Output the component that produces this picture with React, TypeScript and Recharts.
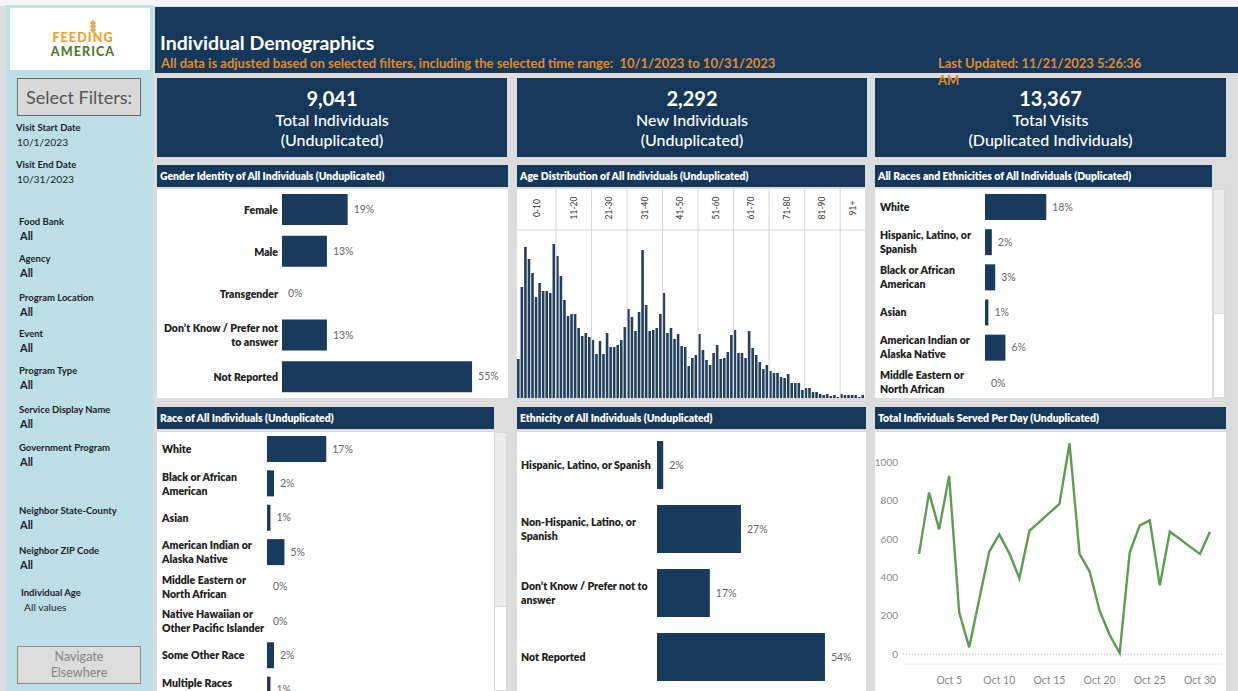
import React from "react";
import { BarChart, Bar, XAxis, YAxis, LabelList, LineChart, Line, ReferenceLine } from "recharts";

const NAVY = "#16395b";
const BAR = "#193b5e";
const ORANGE = "#e08a2c";
const FONT = "Lato, 'Noto Sans', sans-serif";

// ---------- DATA ----------
const genderCats = ["Female", "Male", "Transgender", "Don\u2019t Know / Prefer not to answer", "Not Reported"];
const genderPct = [19, 13, 0, 13, 55];

const raceDupCats = [
  "White",
  "Hispanic, Latino, or Spanish",
  "Black or African American",
  "Asian",
  "American Indian or Alaska Native",
  "Middle Eastern or North African",
];
const raceDupPct = [18, 2, 3, 1, 6, 0];

const raceCats = [
  "White",
  "Black or African American",
  "Asian",
  "American Indian or Alaska Native",
  "Middle Eastern or North African",
  "Native Hawaiian or Other Pacific Islander",
  "Some Other Race",
  "Multiple Races",
];
const racePct = [17, 2, 1, 5, 0, 0, 2, 1];

const ethCats = [
  "Hispanic, Latino, or Spanish",
  "Non-Hispanic, Latino, or Spanish",
  "Don\u2019t Know / Prefer not to answer",
  "Not Reported",
];
const ethPct = [2, 27, 17, 54];

const ageBins = ["0-10", "11-20", "21-30", "31-40", "41-50", "51-60", "61-70", "71-80", "81-90", "91+"];
const ageBinFirst = [0, 11, 21, 31, 41, 51, 61, 71, 81, 91];
const ageBinLast = [10, 20, 30, 40, 50, 60, 70, 80, 90, 97];
const ageCounts = [
  39, 111, 151, 139, 125, 101, 115, 107, 107, 105, 154,
  142, 122, 98, 82, 84, 84, 70, 62, 65, 61,
  58, 44, 57, 44, 65, 51, 51, 53, 58, 71,
  89, 81, 67, 86, 148, 93, 67, 68, 70, 84,
  105, 65, 70, 59, 64, 52, 51, 32, 40, 43,
  64, 48, 38, 33, 45, 53, 39, 40, 46, 63,
  68, 45, 45, 40, 67, 50, 43, 36, 29, 33,
  27, 25, 25, 21, 20, 24, 15, 15, 15, 8,
  10, 10, 6, 6, 4, 3, 4, 2, 3, 1,
  4, 3, 3, 3, 3, 1, 3,
];

const octDays = [2, 3, 4, 5, 6, 7, 8, 9, 10, 11, 12, 13, 14, 15, 16, 17, 18, 19, 20, 21, 22, 23, 24, 25, 26, 27, 28, 29, 30, 31];
const individualsPerDay = [522, 842, 650, 929, 217, 35, 285, 534, 624, 525, 395, 642, 689, 736, 783, 1099, 522, 430, 226, 99, 5, 529, 671, 697, 358, 638, 600, 560, 522, 638];
const dayTicks = [5, 10, 15, 20, 25, 30];
const countTicks = [0, 200, 400, 600, 800, 1000];

const filterItems = [
  ["Visit Start Date", "10/1/2023"],
  ["Visit End Date", "10/31/2023"],
  ["Food Bank", "All"],
  ["Agency", "All"],
  ["Program Location", "All"],
  ["Event", "All"],
  ["Program Type", "All"],
  ["Service Display Name", "All"],
  ["Government Program", "All"],
  ["Neighbor State-County", "All"],
  ["Neighbor ZIP Code", "All"],
  ["Individual Age", "All values"],
];
const filterTops = [121, 158, 215, 252, 291, 327, 364, 403, 441, 504, 544, 586];
const filterLefts = [16, 16, 19, 19, 19, 19, 19, 19, 19, 19, 19, 21];

// ---------- helpers ----------
const zip = (cats: string[], vals: number[]) => cats.map((c, i) => ({ name: c, value: vals[i] }));

function wrap(text: string, maxChars: number): string[] {
  const words = text.split(" ");
  const lines: string[] = [];
  let cur = "";
  for (const w of words) {
    const t = cur ? cur + " " + w : w;
    if (t.length > maxChars && cur) {
      lines.push(cur);
      cur = w;
    } else cur = t;
  }
  if (cur) lines.push(cur);
  return lines;
}

const WrapTick = (props: any) => {
  const { x, y, payload, anchor, axisWidth, pad, maxChars, maxY } = props;
  const lines = wrap(String(payload.value), maxChars);
  const tx = anchor === "start" ? x - axisWidth + pad : x - pad;
  const lh = 14;
  const cy = maxY != null ? Math.min(y, maxY) : y;
  return (
    <g>
      {lines.map((l, i) => (
        <text
          key={i}
          x={tx}
          y={cy + (i - (lines.length - 1) / 2) * lh}
          textAnchor={anchor}
          dominantBaseline="central"
          fontFamily={FONT}
          fontWeight={800}
          fontSize={10.5}
          fill="#222"
        >
          {l}
        </text>
      ))}
    </g>
  );
};

const pctFmt = (v: any) => `${v}%`;

const HBar = ({ data, width, height, axisWidth, max, barSize, anchor, pad, maxChars, maxY }: any) => (
  <BarChart width={width} height={height} data={data} layout="vertical" margin={{ top: 0, right: 0, bottom: 0, left: 0 }}>
    <XAxis type="number" hide domain={[0, max]} allowDataOverflow />
    <YAxis
      type="category"
      dataKey="name"
      width={axisWidth}
      tickLine={false}
      axisLine={false}
      tickSize={0}
      tickMargin={0}
      interval={0}
      tick={<WrapTick anchor={anchor} axisWidth={axisWidth} pad={pad} maxChars={maxChars} maxY={maxY} />}
    />
    <Bar dataKey="value" fill={BAR} barSize={barSize} minPointSize={0.01} isAnimationActive={false}>
      <LabelList dataKey="value" position="right" offset={6} formatter={pctFmt} fill="#666" fontSize={10.5} fontFamily={FONT} />
    </Bar>
  </BarChart>
);

const BinLabel = (props: any) => {
  const { viewBox, text } = props;
  if (!viewBox) return null;
  return (
    <text
      transform={`translate(${viewBox.x},${viewBox.y + 19}) rotate(-90)`}
      textAnchor="middle"
      dominantBaseline="central"
      fontFamily={FONT}
      fontSize={8.5}
      fill="#333"
    >
      {text}
    </text>
  );
};

const Abs = ({ l, t, w, h, bg, children, style }: any) => (
  <div style={{ position: "absolute", left: l, top: t, width: w, height: h, background: bg, ...style }}>{children}</div>
);

const TitleBar = ({ l, t, w, text }: any) => (
  <Abs l={l} t={t} w={w} h={22} bg={NAVY} style={{ color: "#fff", fontWeight: 800, fontSize: 10.4, lineHeight: "22px", paddingLeft: 3, boxSizing: "border-box", whiteSpace: "nowrap" }}>
    {text}
  </Abs>
);

const Kpi = ({ l, w, num, l1, l2 }: any) => (
  <Abs l={l} t={78} w={w} h={79} bg={NAVY} style={{ color: "#fff", textAlign: "center" }}>
    <div style={{ position: "absolute", top: 8, width: "100%", fontSize: 20, fontWeight: 700, lineHeight: "24px" }}>{num}</div>
    <div style={{ position: "absolute", top: 32, width: "100%", fontSize: 16, fontWeight: 500, lineHeight: "20px" }}>{l1}</div>
    <div style={{ position: "absolute", top: 52, width: "100%", fontSize: 16, fontWeight: 500, lineHeight: "20px" }}>{l2}</div>
  </Abs>
);

export default function App() {
  const ageData = ageCounts.map((v, i) => ({ age: i, count: v }));
  const lineData = octDays.map((d, i) => ({ day: d, value: individualsPerDay[i] }));
  const boundaries = ageBinLast.slice(0, -1).map((b) => b + 0.5);
  const centers = ageBinFirst.map((f, i) => (f - 0.5 + ageBinLast[i] + 0.5) / 2);

  return (
    <div style={{ position: "absolute", left: 0, top: 0, width: 1238, height: 691, background: "#dcdcdc", overflow: "hidden", fontFamily: FONT }}>
      <Abs l={0} t={0} w={1238} h={6} bg="#f4f4f4" />
      {/* Sidebar */}
      <Abs l={6} t={5} w={147} h={686} bg="#bcdfe7" />
      <Abs l={10} t={8} w={140} h={62} bg="#fff">
        <svg width={140} height={62}>
          <line x1={83} y1={12} x2={83} y2={25} stroke="#e9a23b" strokeWidth={1.4} />
          {[15, 18.5, 22].map((yy) => (
            <g key={yy}>
              <ellipse cx={81.6} cy={yy} rx={1.2} ry={1.7} fill="#e9a23b" />
              <ellipse cx={84.4} cy={yy} rx={1.2} ry={1.7} fill="#e9a23b" />
            </g>
          ))}
          <text x={73} y={34} textAnchor="middle" fontFamily={FONT} fontWeight={900} fontSize={12.5} letterSpacing={1.1} fill="#f0a02a">FEEDING</text>
          <text x={73} y={47.5} textAnchor="middle" fontFamily={FONT} fontWeight={900} fontSize={12.5} letterSpacing={1.1} fill="#4f7d2c">AMERICA</text>
        </svg>
      </Abs>
      <Abs l={17} t={78} w={124} h={38} bg="#d9d9d9" style={{ border: "1px solid #6b6b6b", boxSizing: "border-box", textAlign: "center", lineHeight: "36px", fontSize: 18, fontWeight: 400, color: "#555", whiteSpace: "nowrap" }}>
        Select Filters:
      </Abs>
      {filterItems.map(([lab, val], i) => (
        <div key={lab} style={{ position: "absolute", left: filterLefts[i], top: filterTops[i], color: "#222" }}>
          <div style={{ fontSize: 9.5, fontWeight: 700, lineHeight: "14px", whiteSpace: "nowrap" }}>{lab}</div>
          <div style={{ fontSize: val === "All" ? 11 : 10.3, fontWeight: val === "All" ? 700 : 400, lineHeight: "14px", marginLeft: i === 11 ? 3 : 1 }}>{val}</div>
        </div>
      ))}
      <Abs l={17} t={646} w={124} h={38} bg="#dcdcdc" style={{ border: "1px solid #8a8a8a", boxSizing: "border-box", textAlign: "center", fontSize: 12.5, fontWeight: 500, color: "#8a8a8a", lineHeight: "16px", paddingTop: 2 }}>
        Navigate
        <br />
        Elsewhere
      </Abs>

      {/* Header */}
      <Abs l={155} t={7} w={1083} h={66} bg={NAVY} />
      <div style={{ position: "absolute", left: 160, top: 30, color: "#fff", fontSize: 19.5, fontWeight: 700, lineHeight: "26px", whiteSpace: "nowrap" }}>
        Individual Demographics
      </div>
      <div style={{ position: "absolute", left: 161, top: 55, color: ORANGE, fontSize: 13, fontWeight: 700, lineHeight: "17px", whiteSpace: "pre" }}>
        {"All data is adjusted based on selected filters, including the selected time range:  10/1/2023 to 10/31/2023"}
      </div>

      <Kpi l={157} w={350} num="9,041" l1="Total Individuals" l2="(Unduplicated)" />
      <Kpi l={517} w={350} num="2,292" l1="New Individuals" l2="(Unduplicated)" />
      <Kpi l={875} w={351} num="13,367" l1="Total Visits" l2="(Duplicated Individuals)" />
      <div style={{ position: "absolute", left: 938, top: 55, width: 222, color: ORANGE, fontSize: 13, fontWeight: 700, lineHeight: "17px", zIndex: 5 }}>
        Last Updated: 11/21/2023 5:26:36 AM
      </div>

      {/* Row 1 */}
      <TitleBar l={157} t={165} w={351} text="Gender Identity of All Individuals (Unduplicated)" />
      <Abs l={157} t={189} w={351} h={209} bg="#fff">
        <HBar data={zip(genderCats, genderPct)} width={351} height={209} axisWidth={125} max={65.4} barSize={31} anchor="end" pad={4} maxChars={24} />
      </Abs>

      <TitleBar l={517} t={165} w={348} text="Age Distribution of All Individuals (Unduplicated)" />
      <Abs l={517} t={189} w={348} h={209} bg="#fff">
        <BarChart width={348} height={209} data={ageData} margin={{ top: 0, right: 0, bottom: 0, left: 0 }}>
          <XAxis type="number" dataKey="age" hide domain={[-0.5, 97.5]} allowDataOverflow />
          <YAxis type="number" hide domain={[0, 209]} allowDataOverflow />
          <ReferenceLine y={168} stroke="#d6d6d6" />
          {boundaries.map((b) => (
            <ReferenceLine key={b} x={b} stroke="#d6d6d6" />
          ))}
          {centers.map((c, i) => (
            <ReferenceLine key={"c" + i} x={c} stroke="none" label={<BinLabel text={ageBins[i]} />} />
          ))}
          <Bar dataKey="count" fill="#22405e" barSize={2.6} isAnimationActive={false} />
        </BarChart>
      </Abs>

      <TitleBar l={875} t={165} w={337} text="All Races and Ethnicities of All Individuals (Duplicated)" />
      <Abs l={875} t={189} w={337} h={209} bg="#fff">
        <HBar data={zip(raceDupCats, raceDupPct)} width={337} height={211} axisWidth={110} max={66.7} barSize={26} anchor="start" pad={5} maxChars={22} />
      </Abs>
      <Abs l={1213} t={189} w={12} h={209} bg="#fff" style={{ border: "1px solid #d8d8d8", boxSizing: "border-box" }} />
      <Abs l={1213} t={189} w={12} h={125} bg="#ececec" style={{ border: "1px solid #d8d8d8", boxSizing: "border-box" }} />

      {/* Row 2 */}
      <TitleBar l={157} t={407} w={337} text="Race of All Individuals (Unduplicated)" />
      <Abs l={157} t={432} w={337} h={259} bg="#fff" style={{ overflow: "hidden" }}>
        <HBar data={zip(raceCats, racePct)} width={337} height={275} axisWidth={110} max={65.1} barSize={26} anchor="start" pad={5} maxChars={22} maxY={251} />
      </Abs>
      <Abs l={494} t={432} w={13} h={259} bg="#fff" style={{ border: "1px solid #d8d8d8", boxSizing: "border-box" }} />
      <Abs l={494} t={432} w={13} h={175} bg="#ececec" style={{ border: "1px solid #d8d8d8", boxSizing: "border-box" }} />

      <TitleBar l={517} t={407} w={349} text="Ethnicity of All Individuals (Unduplicated)" />
      <Abs l={517} t={432} w={349} h={259} bg="#fff">
        <div style={{ position: "absolute", top: 1 }}>
          <HBar data={zip(ethCats, ethPct)} width={349} height={256} axisWidth={140} max={67.2} barSize={48} anchor="start" pad={4} maxChars={28} />
        </div>
      </Abs>

      <TitleBar l={875} t={407} w={351} text="Total Individuals Served Per Day (Unduplicated)" />
      <Abs l={875} t={432} w={351} h={259} bg="#fff">
        <LineChart width={351} height={259} data={lineData} margin={{ top: 8, right: 3, bottom: 0, left: 0 }}>
          <XAxis
            type="number"
            dataKey="day"
            domain={[0.4, 32.3]}
            allowDataOverflow
            ticks={dayTicks}
            tickFormatter={(d: number) => `Oct ${d}`}
            height={27}
            tickLine={false}
            tickSize={0}
            tickMargin={13}
            axisLine={{ stroke: "#f0f0f0" }}
            tick={{ fill: "#888", fontSize: 10.5, fontFamily: FONT }}
          />
          <YAxis
            type="number"
            domain={[-52, 1116]}
            allowDataOverflow
            ticks={countTicks}
            width={28}
            tickLine={false}
            tickSize={0}
            tickMargin={5}
            axisLine={false}
            tick={{ fill: "#888", fontSize: 10, fontFamily: FONT }}
          />
          <ReferenceLine y={0} stroke="#b5b5b5" strokeDasharray="1 2" />
          <Line type="linear" dataKey="value" stroke="#5a9f4d" strokeWidth={2.4} dot={false} isAnimationActive={false} />
        </LineChart>
      </Abs>
    </div>
  );
}
